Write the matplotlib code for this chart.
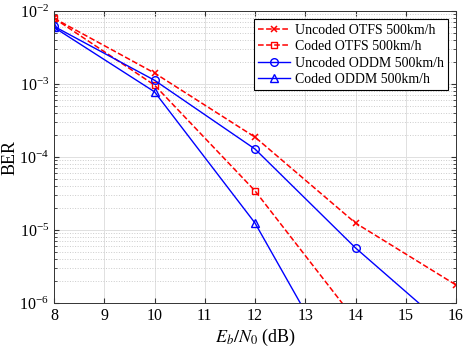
import numpy as np
import matplotlib
matplotlib.use("Agg")
import matplotlib.pyplot as plt

plt.rcParams['font.family'] = 'Liberation Serif'
plt.rcParams['mathtext.fontset'] = 'stix'

snr = [8, 10, 12, 14, 16]
uncoded_otfs = [8.0e-3, 1.42e-3, 1.88e-4, 1.25e-5, 1.77e-6]
coded_otfs = [8.0e-3, 9.7e-4, 3.45e-5, 5.8e-7, 1e-8]
uncoded_oddm = [6.2e-3, 1.13e-3, 1.29e-4, 5.7e-6, 3.6e-7]
coded_oddm = [6.0e-3, 7.85e-4, 1.25e-5, 4.6e-8, 1e-10]

fig = plt.figure(figsize=(4.63, 3.48), dpi=100)
ax = fig.add_axes([0.1166, 0.129, 0.8684, 0.839])

ax.semilogy(snr, uncoded_otfs, 'r--x', lw=1.1, ms=4.5, mew=1.1, label='Uncoded OTFS 500km/h')
ax.semilogy(snr, coded_otfs, 'r--s', lw=1.1, ms=4.5, mfc='none', mew=1.0, label='Coded OTFS 500km/h')
ax.semilogy(snr, uncoded_oddm, 'b-o', lw=1.0, ms=5.5, mfc='none', mew=1.0, label='Uncoded ODDM 500km/h')
ax.semilogy(snr, coded_oddm, 'b-^', lw=1.0, ms=5.5, mfc='none', mew=1.0, label='Coded ODDM 500km/h')

ax.set_xlim(8, 16)
ax.set_ylim(1e-6, 1e-2)
ax.set_xticks(range(8, 17))
ax.grid(True, which='major', color='#e0e0e0', lw=0.7)
ax.grid(True, which='minor', color='#cccccc', ls=':', lw=0.7)
ax.tick_params(which='both', direction='in', top=True, right=True, labelsize=11.5, color='#333333')
ax.tick_params(which='minor', labelleft=False)
for s in ax.spines.values():
    s.set_color('#333333')
    s.set_linewidth(0.7)

ax.set_xlabel(r'$E_b/N_0$ (dB)', fontsize=13, labelpad=2)
ax.set_ylabel('BER', fontsize=13)
ax.yaxis.set_label_coords(-0.088, 0.5)

leg = ax.legend(loc='upper right', fontsize=10, fancybox=False, framealpha=1,
                edgecolor='black', handlelength=2.3, borderpad=0.3, labelspacing=0.25,
                handletextpad=0.3, borderaxespad=0.6)
leg.get_frame().set_linewidth(0.8)

fig.savefig('out.png', dpi=100)
